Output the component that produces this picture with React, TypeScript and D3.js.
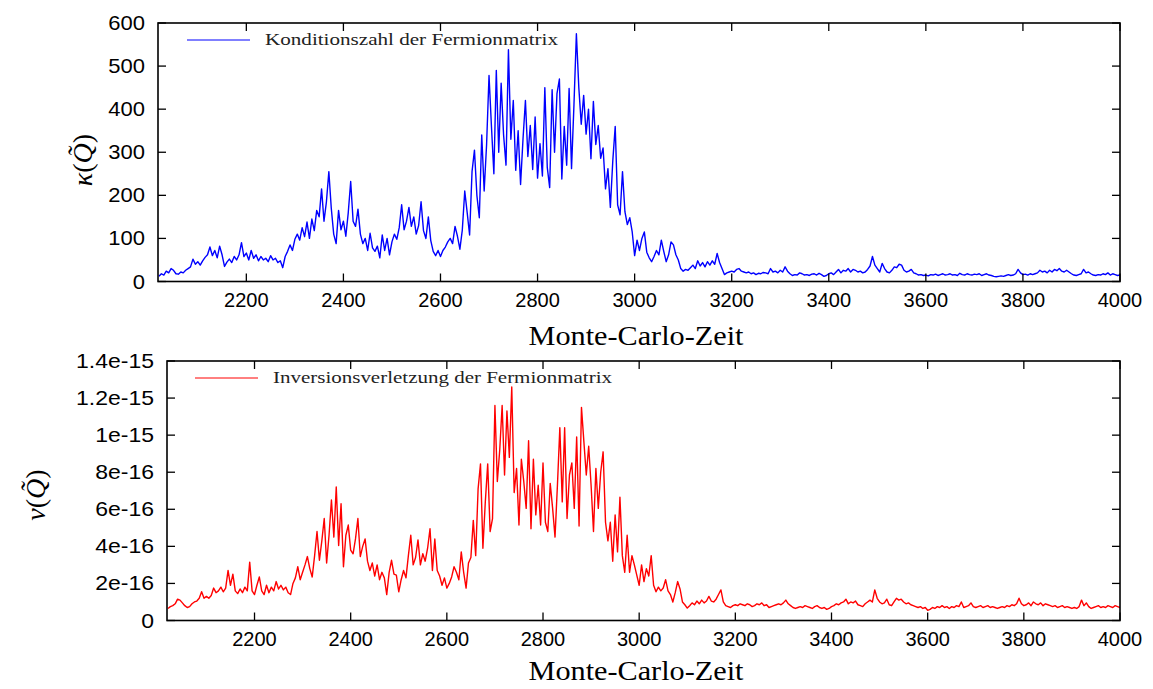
import React from "react";
import * as d3 from "d3";

// Monte-Carlo time grid: first sample and spacing
const T_START = 2020;
const T_STEP = 5;
const T_DOMAIN: [number, number] = [2018, 4000];

// Condition number of the fermion matrix, one row per 50 time units
const kappa: number[] = [
  12, 18, 15, 24, 20, 30, 26, 18, 17, 22,
  20, 26, 30, 34, 52, 40, 46, 38, 48, 56,
  62, 80, 60, 72, 55, 82, 62, 35, 45, 52,
  44, 58, 50, 62, 90, 58, 66, 50, 72, 54,
  62, 48, 58, 50, 54, 46, 60, 50, 54, 44,
  48, 32, 58, 70, 85, 72, 98, 110, 96, 125,
  104, 138, 100, 145, 118, 165, 150, 215, 140, 185,
  255, 170, 110, 88, 165, 120, 140, 105, 160, 232,
  140, 128, 168, 110, 88, 100, 72, 112, 78, 70,
  82, 55, 108, 72, 100, 62, 92, 110, 98, 125,
  178, 120, 140, 172, 128, 150, 110, 130, 185, 118,
  100, 150, 95, 70, 60, 72, 58, 72, 80, 92,
  100, 88, 128, 105, 75, 120, 210, 160, 108, 255,
  305, 200, 148, 340, 210, 318, 478, 360, 250, 490,
  300, 460, 340, 270, 538, 330, 420, 258, 350, 225,
  330, 420, 290, 362, 260, 382, 240, 320, 245, 450,
  265, 218, 445, 300, 436, 470, 238, 360, 270, 448,
  262, 410, 575, 450, 365, 432, 342, 400, 285, 418,
  318, 362, 286, 310, 215, 262, 172, 280, 360, 178,
  155, 255, 162, 132, 148, 115, 60, 96, 72, 100,
  115, 68, 55, 46, 58, 72, 62, 96, 70, 46,
  62, 92, 85, 62, 50, 30, 24, 28, 26, 32,
  38, 30, 48, 36, 44, 34, 46, 38, 48, 40,
  65, 44, 30, 16, 20, 22, 24, 22, 28, 30,
  24, 22, 20, 22, 18, 20, 16, 19, 18, 21,
  20, 18, 30, 22, 24, 20, 26, 22, 34, 24,
  18, 14, 16, 15, 20, 18, 15, 16, 14, 17,
  18, 15, 19, 16, 12, 14, 18, 20, 16, 22,
  28, 20, 26, 24, 30, 22, 28, 26, 22, 24,
  20, 22, 28, 36, 58, 38, 30, 22, 42, 30,
  22, 20, 26, 34, 32, 40, 38, 26, 22, 24,
  28, 20, 18, 15, 16, 14, 15, 13, 16, 15,
  17, 14, 16, 18, 15, 16, 18, 15, 16, 14,
  19, 16, 15, 18, 16, 15, 17, 16, 18, 14,
  16, 18, 15, 14, 12, 11, 12, 13, 12, 14,
  16, 14, 15, 18, 28, 20, 16, 17, 15, 18,
  16, 18, 20, 26, 22, 24, 20, 26, 22, 28,
  25, 30, 24, 22, 26, 22, 18, 15, 14, 16,
  18, 28, 20, 22, 18, 15, 14, 16, 15, 18,
  16, 20, 15, 18, 16, 14, 15,
];

// Inversion violation, in units of 1e-16
const VIOLATION_UNIT = 1e-16;
const violation: number[] = [
  0.65, 0.75, 0.8, 0.9, 1.15, 1.1, 0.95, 0.8, 0.7, 0.75,
  0.9, 1.0, 1.05, 1.2, 1.55, 1.2, 1.3, 1.2, 1.35, 1.75,
  1.5, 1.6, 1.8, 1.55, 1.75, 2.7, 1.9, 2.5, 1.6, 1.45,
  1.7, 1.5, 1.8, 1.6, 3.15, 1.6, 1.4, 1.9, 2.35, 1.6,
  1.4, 1.9, 1.5, 1.8, 1.6, 2.1, 1.7, 1.9, 1.65, 1.8,
  1.5, 1.4, 2.0, 2.3, 2.9, 2.2, 2.6, 3.0, 3.45, 2.8,
  2.35, 3.5, 4.8, 3.25, 4.3, 5.5, 3.1, 4.6, 6.5, 4.5,
  7.2, 4.05, 6.3, 2.9, 4.6, 5.15, 3.8, 3.6, 4.4, 5.5,
  3.45, 4.0, 4.4, 3.2, 2.7, 3.1, 2.4, 3.0, 2.2, 2.6,
  2.3, 1.4, 2.6, 3.25, 2.5, 2.45, 1.55, 2.2, 2.7, 2.3,
  3.5, 4.6, 3.0, 3.4, 4.35, 3.0, 3.6, 3.2, 3.9, 4.95,
  2.7, 4.4, 2.7, 2.4, 1.9, 2.3, 1.75, 2.0, 2.35, 2.9,
  2.6, 2.2, 3.7, 2.6, 1.75, 3.1, 3.4, 5.4, 3.5, 7.1,
  8.45, 3.9, 6.4, 8.45, 4.8, 5.5, 11.6, 7.5, 9.2, 11.6,
  7.85, 11.3, 8.8, 12.6, 6.9, 8.2, 5.15, 8.7, 7.5, 6.05,
  9.7, 4.95, 8.7, 5.7, 7.3, 5.15, 8.5, 5.3, 4.8, 7.4,
  6.05, 4.5, 7.3, 10.4, 6.4, 10.4, 5.5, 7.85, 8.5, 6.05,
  9.9, 5.1, 11.5, 9.65, 7.85, 9.4, 7.3, 4.8, 8.2, 6.05,
  8.0, 9.1, 5.3, 4.3, 5.3, 3.2, 5.7, 3.7, 6.65, 3.5,
  2.6, 4.6, 2.6, 3.5, 3.0, 2.45, 1.9, 3.0, 2.1, 2.8,
  2.4, 3.5, 1.9, 1.55, 1.8, 1.6, 1.75, 2.2, 1.6, 1.4,
  1.0, 1.5, 2.1, 1.7, 1.0, 0.85, 0.67, 0.8, 0.95, 0.85,
  1.05, 0.9, 1.1, 0.95, 1.05, 1.3, 1.05, 1.0, 1.15, 1.4,
  1.65, 1.0, 0.8, 0.75, 0.7, 0.8, 0.85, 0.8, 0.9, 0.85,
  0.8, 0.9, 0.85, 0.75, 0.8, 0.9, 0.85, 0.95, 0.8, 0.85,
  0.7, 0.75, 0.8, 0.85, 0.9, 0.85, 0.95, 1.1, 0.9, 0.8,
  0.7, 0.65, 0.7, 0.75, 0.7, 0.8, 0.75, 0.7, 0.65, 0.75,
  0.8, 0.7, 0.65, 0.7, 0.6, 0.65, 0.75, 0.8, 0.9, 0.85,
  0.95, 1.0, 1.15, 0.9, 1.0, 0.95, 1.05, 0.85, 0.8, 0.75,
  0.9, 1.0, 1.1, 1.0, 1.65, 1.2, 1.0, 0.9, 0.95, 1.15,
  0.85, 0.8, 1.0, 1.2, 1.1, 1.15, 1.0, 0.9, 0.95, 0.85,
  0.8, 0.75, 0.7, 0.75, 0.65, 0.7, 0.55, 0.6, 0.7, 0.65,
  0.75, 0.7, 0.8, 0.7, 0.75, 0.65, 0.75, 0.7, 0.8, 0.75,
  1.0, 0.7, 0.75, 0.8, 0.95, 0.75, 0.7, 0.75, 0.8, 0.7,
  0.75, 0.8, 0.7, 0.75, 0.7, 0.65, 0.7, 0.75, 0.7, 0.8,
  0.75, 0.85, 0.8, 0.9, 1.2, 0.9, 0.8, 0.85, 0.95, 0.8,
  1.0, 0.9, 0.85, 0.95, 0.8, 0.9, 0.85, 0.8, 0.75, 0.8,
  0.7, 0.75, 0.8, 0.7, 0.75, 0.7, 0.65, 0.7, 0.65, 0.75,
  1.1, 0.8, 0.95, 0.75, 0.65, 0.7, 0.75, 0.8, 0.7, 0.75,
  0.7, 0.8, 0.75, 0.7, 0.8, 0.75, 0.7,
];

const xTicks = [2200, 2400, 2600, 2800, 3000, 3200, 3400, 3600, 3800, 4000];
const kappaTicks = [0, 100, 200, 300, 400, 500, 600];
const violationTicks = [0, 2e-16, 4e-16, 6e-16, 8e-16, 1e-15, 1.2e-15, 1.4e-15];
const violationTickLabels = ["0", "2e-16", "4e-16", "6e-16", "8e-16", "1e-15", "1.2e-15", "1.4e-15"];

const xTitle = "Monte-Carlo-Zeit";
const kappaLegend = "Konditionszahl der Fermionmatrix";
const violationLegend = "Inversionsverletzung der Fermionmatrix";

const SANS = "'Liberation Sans', Arial, Helvetica, sans-serif";
const SERIF = "'Liberation Serif', 'Times New Roman', serif";
const TICK = 8;

type PanelProps = {
  left: number;
  right: number;
  top: number;
  bottom: number;
  values: number[];
  unit: number;
  yDomain: [number, number];
  yTicks: number[];
  yLabels: string[];
  color: string;
  legend: string;
  legendX: number;
  legendTextLen: number;
  yTitleMain: string;
  yTitleX: number;
  yTitleY: number;
  yLabelStretch: number;
  titleY: number;
};

function Panel(p: PanelProps) {
  const x = d3.scaleLinear().domain(T_DOMAIN).range([p.left, p.right]);
  const y = d3.scaleLinear().domain(p.yDomain).range([p.bottom, p.top]);
  const line = d3
    .line<number>()
    .x((_, i) => x(T_START + i * T_STEP))
    .y((v) => y(v * p.unit));
  const legendY = p.top + 17;
  return (
    <g>
      <defs>
        <clipPath id={`clip-${p.color}`}>
          <rect x={p.left} y={p.top} width={p.right - p.left} height={p.bottom - p.top} />
        </clipPath>
      </defs>
      <path
        d={line(p.values) ?? ""}
        fill="none"
        stroke={p.color}
        strokeWidth={1.4}
        strokeLinejoin="round"
        clipPath={`url(#clip-${p.color})`}
      />
      {/* frame */}
      <rect
        x={p.left}
        y={p.top}
        width={p.right - p.left}
        height={p.bottom - p.top}
        fill="none"
        stroke="#000"
        strokeWidth={1.6}
      />
      {/* x ticks, inward on bottom and top */}
      {xTicks.map((t) => (
        <g key={`x${t}`}>
          <line x1={x(t)} x2={x(t)} y1={p.bottom} y2={p.bottom - TICK} stroke="#000" strokeWidth={1.3} />
          <line x1={x(t)} x2={x(t)} y1={p.top} y2={p.top + TICK} stroke="#000" strokeWidth={1.3} />
          <text
            x={x(t)}
            y={p.bottom + 25}
            textAnchor="middle"
            fontFamily={SANS}
            fontSize={20}
            fill="#000"
          >
            {t}
          </text>
        </g>
      ))}
      {/* y ticks, inward on left and right */}
      {p.yTicks.map((v, i) => (
        <g key={`y${i}`}>
          <line x1={p.left} x2={p.left + TICK} y1={y(v)} y2={y(v)} stroke="#000" strokeWidth={1.3} />
          <line x1={p.right} x2={p.right - TICK} y1={y(v)} y2={y(v)} stroke="#000" strokeWidth={1.3} />
          <text
            transform={`translate(${p.left - 13},${y(v) + 7}) scale(${p.yLabelStretch},1)`}
            textAnchor="end"
            fontFamily={SANS}
            fontSize={20}
            fill="#000"
          >
            {p.yLabels[i]}
          </text>
        </g>
      ))}
      {/* legend */}
      <line
        x1={p.legendX}
        x2={p.legendX + 63}
        y1={legendY}
        y2={legendY}
        stroke={p.color}
        strokeWidth={1}
      />
      <text
        x={p.legendX + 78}
        y={legendY + 5}
        fontFamily={SERIF}
        fontSize={17.5}
        textLength={p.legendTextLen}
        lengthAdjust="spacingAndGlyphs"
        fill="#222"
      >
        {p.legend}
      </text>
      {/* x axis title */}
      <text
        x={636}
        y={p.titleY}
        textAnchor="middle"
        fontFamily={SERIF}
        fontSize={27}
        textLength={215}
        lengthAdjust="spacingAndGlyphs"
        fill="#000"
      >
        {xTitle}
      </text>
      {/* y axis title */}
      <text
        transform={`translate(${p.yTitleX},${p.yTitleY}) rotate(-90)`}
        textAnchor="middle"
        fontFamily={SERIF}
        fontSize={28}
        fill="#000"
      >
        <tspan fontStyle="italic">{p.yTitleMain}</tspan>
        <tspan>(</tspan>
        <tspan fontStyle="italic">{"Q\u0303"}</tspan>
        <tspan>)</tspan>
      </text>
    </g>
  );
}

export default function App() {
  return (
    <svg
      width={1153}
      height={689}
      viewBox="0 0 1153 689"
      style={{ position: "absolute", left: 0, top: 0, background: "#fff" }}
    >
      <rect x={0} y={0} width={1153} height={689} fill="#fff" />
      <Panel
        left={158}
        right={1120}
        top={23}
        bottom={281.5}
        values={kappa}
        unit={1}
        yDomain={[0, 600]}
        yTicks={kappaTicks}
        yLabels={kappaTicks.map(String)}
        color="#0000ff"
        legend={kappaLegend}
        legendX={187}
        legendTextLen={293}
        yTitleMain="κ"
        yTitleX={92}
        yTitleY={160}
        yLabelStretch={1.1}
        titleY={345}
      />
      <Panel
        left={167}
        right={1120}
        top={361}
        bottom={620.5}
        values={violation}
        unit={VIOLATION_UNIT}
        yDomain={[0, 1.4e-15]}
        yTicks={violationTicks}
        yLabels={violationTickLabels}
        color="#ff0000"
        legend={violationLegend}
        legendX={195}
        legendTextLen={339}
        yTitleMain="v"
        yTitleX={45}
        yTitleY={495}
        yLabelStretch={1.15}
        titleY={680}
      />
    </svg>
  );
}
